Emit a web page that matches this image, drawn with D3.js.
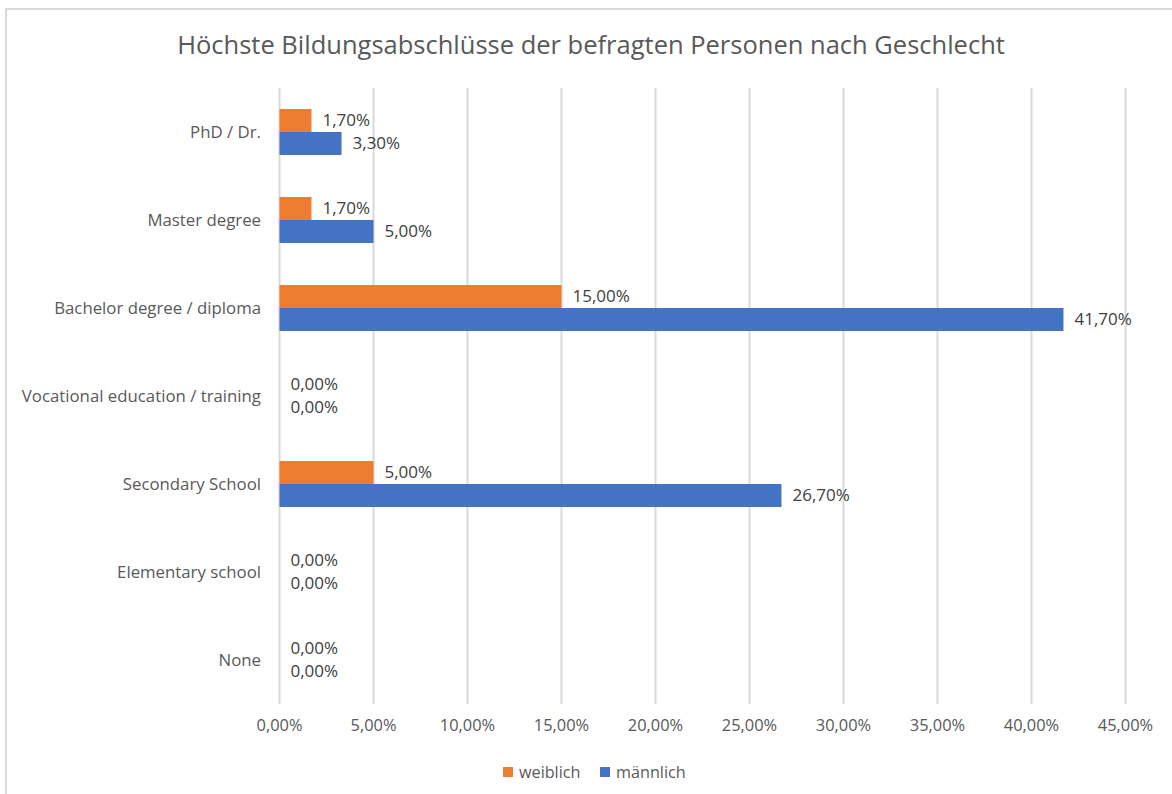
<!DOCTYPE html>
<html><head><meta charset="utf-8">
<script src="https://cdn.jsdelivr.net/npm/d3@7"></script>
<style>
html,body{margin:0;padding:0;background:#fff;}
svg{display:block;font-family:"Open Sans","Noto Sans",sans-serif;}
</style></head>
<body><svg id="c" width="1172" height="794"></svg>
<script>
const title = "Höchste Bildungsabschlüsse der befragten Personen nach Geschlecht";
const categories = ["PhD / Dr.", "Master degree", "Bachelor degree / diploma", "Vocational education / training", "Secondary School", "Elementary school", "None"];
const seriesNames = ["weiblich", "männlich"];
const weiblich = [1.7, 1.7, 15.0, 0, 5.0, 0, 0];
const maennlich = [3.3, 5.0, 41.7, 0, 26.7, 0, 0];
const ticks = [0, 5, 10, 15, 20, 25, 30, 35, 40, 45];
const colors = ["#ed7d31", "#4472c4"];

const fmt = v => v.toFixed(2).replace(".", ",") + "%";
const svg = d3.select("#c");

// frame
svg.append("rect").attr("x", 6).attr("y", 9).attr("width", 1180).attr("height", 800)
  .attr("fill", "none").attr("stroke", "#d9d9d9").attr("stroke-width", 2);

const x = d3.scaleLinear().domain([0, 45]).range([279.5, 1125.5]);
const y = d3.scaleBand().domain(categories).range([88, 704]);
const inner = d3.scaleBand().domain(seriesNames).range([0, y.bandwidth()]).paddingOuter(0.915).paddingInner(0);

// gridlines
svg.append("g").selectAll("line").data(ticks).join("line")
  .attr("x1", d => x(d)).attr("x2", d => x(d))
  .attr("y1", 88).attr("y2", 704)
  .attr("stroke", "#d9d9d9").attr("stroke-width", 2);

// tick labels
svg.append("g").selectAll("text").data(ticks).join("text")
  .attr("x", d => x(d)).attr("y", 725).attr("dy", "0.35em")
  .attr("text-anchor", "middle").attr("font-size", 16.4).attr("fill", "#595959")
  .text(d => fmt(d));

// category labels
svg.append("g").selectAll("text").data(categories).join("text")
  .attr("x", 261).attr("y", d => y(d) + y.bandwidth() / 2).attr("dy", "0.35em")
  .attr("text-anchor", "end").attr("font-size", 16.8).attr("fill", "#595959")
  .text(d => d);

const series = [weiblich, maennlich];
series.forEach((vals, si) => {
  const g = svg.append("g");
  const data = categories.map((c, i) => ({c, v: vals[i]}));
  g.selectAll("rect").data(data.filter(d => d.v > 0)).join("rect")
    .attr("x", x(0)).attr("y", d => y(d.c) + inner(seriesNames[si]))
    .attr("width", d => x(d.v) - x(0)).attr("height", inner.bandwidth())
    .attr("fill", colors[si]);
  g.selectAll("text").data(data).join("text")
    .attr("x", d => x(d.v) + 11)
    .attr("y", d => y(d.c) + inner(seriesNames[si]) + inner.bandwidth() / 2).attr("dy", "0.35em")
    .attr("font-size", 17).attr("fill", "#404040")
    .text(d => fmt(d.v));
});

// title
svg.append("text").attr("x", 591).attr("y", 45).attr("dy", "0.35em").attr("text-anchor", "middle")
  .attr("font-size", 25.5).attr("fill", "#595959").text(title);

// legend
const legX = [503, 600];
seriesNames.forEach((n, i) => {
  svg.append("rect").attr("x", legX[i]).attr("y", 767).attr("width", 10).attr("height", 10).attr("fill", colors[i]);
  svg.append("text").attr("x", legX[i] + 16).attr("y", 772).attr("dy", "0.35em").attr("font-size", 16.2).attr("fill", "#595959").text(n);
});
</script></body></html>
